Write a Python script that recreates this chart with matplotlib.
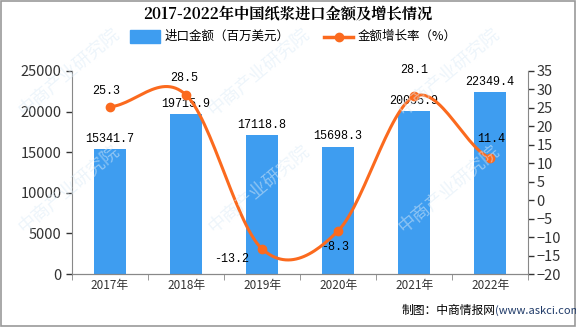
import numpy as np
import matplotlib.pyplot as plt
from matplotlib.patches import Rectangle

plt.rcParams['font.family'] = ['Noto Sans CJK SC', 'DejaVu Sans']

# data
years = ['2017年', '2018年', '2019年', '2020年', '2021年', '2022年']
amount = [15341.7, 19715.9, 17118.8, 15698.3, 20055.9, 22349.4]
growth = [25.3, 28.5, -13.2, -8.3, 28.1, 11.4]

bar_color = '#3e9df0'
line_color = '#fb6a1e'


def smooth(x, y, n=30):
    # catmull-rom curve through the points, only for drawing the line
    x = np.asarray(x, float)
    y = np.asarray(y, float)
    px = np.concatenate([[2 * x[0] - x[1]], x, [2 * x[-1] - x[-2]]])
    py = np.concatenate([[y[0]], y, [y[-1]]])
    xs, ys = [], []
    for i in range(1, len(px) - 2):
        t = np.linspace(0, 1, n)
        for arr, out in ((px, xs), (py, ys)):
            p0, p1, p2, p3 = arr[i - 1], arr[i], arr[i + 1], arr[i + 2]
            out.extend(0.5 * ((2 * p1) + (-p0 + p2) * t
                              + (2 * p0 - 5 * p1 + 4 * p2 - p3) * t ** 2
                              + (-p0 + 3 * p1 - 3 * p2 + p3) * t ** 3))
    return np.array(xs), np.array(ys)


fig = plt.figure(figsize=(5.76, 3.27), dpi=100)
ax = fig.add_axes([0.125, 0.162, 0.792, 0.621])
ax2 = ax.twinx()

# watermark (faint, behind everything)
for wx, wy in [(0.12, 0.78), (0.45, 0.78), (0.78, 0.78), (0.12, 0.42), (0.45, 0.42),
               (0.78, 0.42)]:
    fig.text(wx, wy, '中商产业研究院', fontsize=13, color='#dcebf7', alpha=0.5,
             rotation=40, ha='center', va='center', zorder=0)

x = np.arange(len(years))
ax.bar(x, amount, width=0.42, color=bar_color, zorder=2)
ax.set_xlim(-0.5, len(years) - 0.5)
ax.set_ylim(0, 25000)
ax.set_yticks(range(0, 25001, 5000))
ax.set_xticks(x)
ax.set_xticklabels(years)
for xi, v in zip(x, amount):
    ax.text(xi, v + 500, f'{v}', ha='center', va='bottom', fontsize=8.5,
            family=['Liberation Mono', 'DejaVu Sans Mono'])

sx, sy = smooth(x, growth)
ax2.plot(sx, sy, color=line_color, lw=2.2, zorder=3)
ax2.plot(x, growth, 'o', color=line_color, ms=6, zorder=4)
ax2.set_ylim(-20, 35)
ax2.set_yticks(range(-20, 36, 5))
ax2.set_yticklabels([str(v).replace('-', '−') for v in range(-20, 36, 5)])

offs = [(-3, 11), (-1, 12), (-22, -7), (-2, -12), (0, 19), (1, 14)]
for xi, v, (dx, dy) in zip(x, growth, offs):
    ax2.annotate(f'{v}', (xi, v), xytext=(dx, dy), textcoords='offset points',
                 ha='center', va='center', fontsize=8.5,
                 family=['Liberation Mono', 'DejaVu Sans Mono'])

for a in (ax, ax2):
    a.spines['top'].set_visible(False)
    a.tick_params(colors='#333333', length=4, width=1)
    for s in a.spines.values():
        s.set_color('#888888')
ax.spines['right'].set_visible(False)
ax2.spines['left'].set_visible(False)
ax.tick_params(axis='x', labelsize=8.5)
ax.tick_params(axis='y', labelsize=10.5)
ax2.tick_params(axis='y', labelsize=10.5, pad=2)
ax.set_xticks(np.arange(-0.5, len(years), 1), minor=True)
ax.tick_params(axis='x', which='major', length=0)
ax.tick_params(axis='x', which='minor', length=4, color='#888888')

fig.text(0.5, 0.955, '2017-2022年中国纸浆进口金额及增长情况', ha='center', va='center',
         fontsize=11, fontweight='bold', family=['Noto Serif CJK SC', 'Noto Sans CJK SC'])

# legend
fig.patches.append(Rectangle((0.225, 0.868), 0.053, 0.04, transform=fig.transFigure,
                             color=bar_color))
fig.text(0.285, 0.888, '进口金额（百万美元）', fontsize=9, va='center')
fig.lines.append(plt.Line2D([0.563, 0.613], [0.888, 0.888], transform=fig.transFigure,
                            color=line_color, lw=2.5))
fig.lines.append(plt.Line2D([0.588], [0.888], transform=fig.transFigure,
                            color=line_color, marker='o', ms=6))
fig.text(0.62, 0.888, '金额增长率（%）', fontsize=9, va='center')

fig.text(0.86, 0.05, '制图：中商情报网', fontsize=8.5, ha='right', va='center')
fig.text(0.86, 0.05, '(www.askci.com)', fontsize=8, ha='left', va='center',
         color='#1f3a68')

fig.patches.append(Rectangle((0.001, 0.002), 0.997, 0.995, transform=fig.transFigure,
                             fill=False, edgecolor='#999999', lw=1.2, zorder=-1))

fig.savefig('out.png', dpi=100)
